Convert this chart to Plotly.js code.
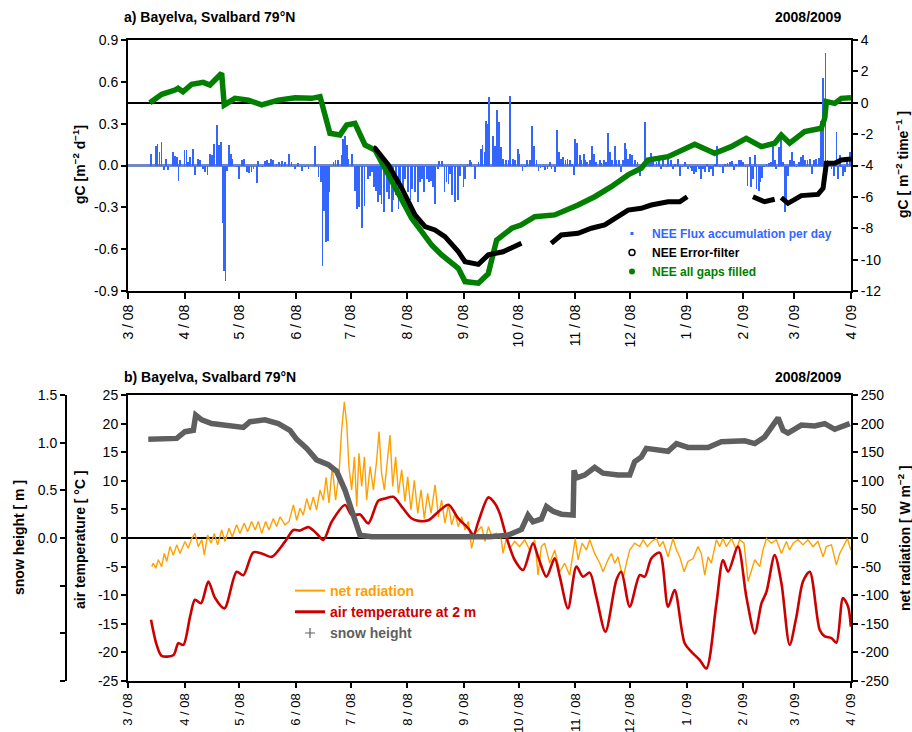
<!DOCTYPE html>
<html>
<head>
<meta charset="utf-8">
<script src="https://cdn.plot.ly/plotly-3.0.1.min.js"></script>
<style>html,body{margin:0;padding:0;background:#fff;}#chart{width:912px;height:732px;}</style>
</head>
<body>
<div id="chart"></div>
<script>
// ---------- axis categories / tick labels ----------
const monthStarts = ['2008-03-01','2008-04-01','2008-05-01','2008-06-01','2008-07-01','2008-08-01','2008-09-01',
  '2008-10-01','2008-11-01','2008-12-01','2009-01-01','2009-02-01','2009-03-01','2009-04-01'];
const monthLabels = ['3 / 08','4 / 08','5 / 08','6 / 08','7 / 08','8 / 08','9 / 08',
  '10 / 08','11 / 08','12 / 08','1 / 09','2 / 09','3 / 09','4 / 09'];

// all "day" values: days since 1 March 2008
// ---------- panel a: NEE flux accumulation per day (gC m-2 d-1) ----------
const neeDay = [
  12.6, 15.2, 16.2, 17.2, 18.4, 19.9, 20.8, 22.1, 24.5, 25.7,
  26.7, 27.6, 28.5, 30.9, 32.1, 33, 34, 35.8, 36.7, 38.2,
  39.4, 40.9, 42.2, 43.6, 44.9, 46.2, 47.3, 48.7, 49.8, 50.8,
  51.7, 52.6, 53.4, 54.4, 55.3, 56.4, 57.3, 59.5, 60.8, 62.3,
  63.5, 65, 66.3, 67.7, 68.8, 70.5, 71.4, 73.2, 75, 76.1,
  77.2, 78.3, 79.6, 81.4, 82.7, 84.2, 86, 88.2, 89.6, 91.5,
  93.3, 95.1, 97, 98.8, 102.4, 104.3, 105.7, 106.6, 107.4, 108.3,
  109.4, 110.3, 112.5, 113.7, 115.2, 117, 117.9, 118.9, 119.8, 120.7,
  122.5, 124.3, 125.6, 126.7, 128.2, 129.5, 131.3, 132.6, 133.8, 134.9,
  135.8, 136.8, 138, 138.9, 140.4, 141.7, 143, 144.4, 145.3, 146.6,
  148.1, 149, 150.8, 151.7, 153.5, 154.8, 155.7, 157.2, 158.7, 159.9,
  160.9, 162.3, 163.6, 164.9, 166, 167.2, 168.2, 169.6, 170.5, 171.8,
  173.3, 174.5, 175.5, 176.4, 177.3, 179.1, 180.9, 181.9, 183.7, 184.6,
  186, 187.3, 188.2, 190.1, 191, 191.9, 193.4, 194.1, 195.2, 195.9,
  197, 197.7, 199.9, 200.9, 202.1, 203.2, 204.1, 205.4, 207.2, 208.5,
  209.4, 210.9, 211.8, 213.6, 214.5, 216, 217.3, 218.7, 220, 221.3,
  222.4, 223.7, 224.9, 226, 227.3, 228.2, 229.7, 231, 231.9, 233.7,
  235, 235.9, 237, 238.3, 239.6, 240.7, 241.9, 243.2, 244.3, 245,
  246.1, 247.4, 248.3, 249.6, 250.5, 251.6, 252.9, 254.2, 255.3, 256.5,
  258.4, 259.3, 260.7, 262, 262.9, 263.8, 265.1, 266.6, 267.5, 268.8,
  269.9, 271.1, 272.1, 273, 273.9, 274.8, 276.1, 277.5, 279, 280.3,
  281.6, 283, 283.9, 285.2, 286.3, 287.6, 289.4, 290.7, 292.1, 293.1,
  294.9, 295.8, 297.3, 298.5, 299.8, 301.3, 302.2, 303.5, 304.9, 306.7,
  308.2, 308.9, 310, 311.3, 312.6, 314, 315, 315.9, 317.2, 318.3,
  319.2, 320.4, 321.4, 322.8, 324.1, 325.9, 326.8, 328.3, 329.6, 330.8,
  331.9, 333.2, 334.5, 335.6, 336.9, 338.2, 339.3, 340.5, 341.4, 342.4,
  343.3, 344.2, 345.5, 346.5, 347.3, 348.4, 349.7, 350.9, 352, 353.3,
  354.2, 355.1, 356.4, 357.5, 358.8, 359.7, 360.6, 361.5, 362.4, 363.7,
  364.8, 366.1, 367.4, 368.5, 369.7, 371, 372.1, 373.4, 374.7, 375.8,
  377, 378.3, 379.4, 380.7, 382, 383.1, 385.3, 386.7, 388, 388.9,
  389.8, 390.7, 391.6, 392.9, 394, 395.3
];
const neeFlux = [
  0.08, 0.14, 0.155, 0.10, 0.17, -0.035, 0.05, -0.03, 0.10, 0.07,
  0.06, -0.11, 0.04, 0.11, 0.11, 0.024, 0.06, 0.115, -0.07, 0.048,
  0.043, -0.024, -0.048, -0.067, 0.084, 0.072, 0.155, 0.29, 0.144, 0.17,
  -0.41, -0.76, -0.83, -0.036, 0.15, 0.084, 0.048, -0.012, -0.10, 0.036,
  0.048, -0.043, -0.053, -0.048, -0.024, -0.127, 0.029, -0.012, 0.029, 0.036,
  0.017, 0.048, 0.036, 0.012, 0.024, 0.029, 0.024, 0.084, 0.024, -0.024,
  0.017, -0.036, -0.012, -0.024, 0.139, -0.084, -0.12, -0.718, -0.323, -0.55,
  -0.538, -0.19, 0.024, 0.036, 0.04, 0.072, 0.19, 0.215, 0.144, 0.048,
  0.084, -0.18, -0.31, -0.3, -0.45, -0.287, -0.096, -0.072, -0.048, -0.155,
  -0.18, -0.263, -0.215, -0.275, -0.335, -0.19, -0.24, -0.335, -0.25, -0.215,
  -0.31, -0.155, -0.19, -0.096, -0.19, -0.25, -0.167, -0.19, -0.263, -0.12,
  -0.096, -0.19, -0.096, -0.12, -0.108, -0.155, -0.275, -0.024, 0.029, 0.029,
  -0.19, -0.12, -0.132, -0.06, -0.215, -0.263, -0.25, -0.072, -0.155, -0.096,
  0.012, 0.036, 0.024, -0.096, 0.0, 0.024, 0.12, 0.144, 0.096, 0.316,
  0.3, 0.49, 0.215, 0.14, 0.4, 0.31, 0.13, 0.05, 0.036, 0.043,
  0.5, 0.048, 0.036, 0.12, 0.084, -0.036, -0.012, 0.043, 0.043, 0.28,
  0.14, 0.036, -0.036, -0.02, -0.012, -0.03, -0.024, 0.024, -0.024, -0.048,
  0.256, 0.096, 0.048, 0.06, 0.036, 0.048, 0.036, 0.012, -0.07, 0.19,
  0.16, 0.072, 0.036, 0.084, 0.04, 0.024, 0.036, 0.14, 0.084, 0.024,
  0.036, 0.017, 0.036, 0.024, 0.23, 0.096, 0.036, 0.14, 0.036, 0.043,
  -0.048, 0.036, 0.16, 0.12, 0.048, 0.084, 0.072, 0.036, 0.024, -0.077,
  -0.012, 0.31, 0.024, 0.036, 0.09, 0.036, 0.024, 0.048, -0.024, 0.06,
  -0.012, 0.072, 0.036, -0.024, 0.012, 0.048, -0.072, -0.012, 0.024, -0.024,
  -0.02, -0.036, -0.06, -0.048, -0.024, -0.096, -0.024, -0.048, 0.012, -0.043,
  -0.024, -0.072, 0.012, 0.14, -0.012, -0.053, 0.012, 0.019, 0.024, 0.029,
  -0.029, 0.012, 0.036, 0.043, 0.024, -0.012, -0.144, 0.06, -0.155, -0.096,
  0.072, -0.167, -0.18, -0.12, -0.091, -0.012, 0.012, 0.017, 0.024, 0.14,
  0.036, -0.024, 0.132, 0.23, 0.024, -0.335, -0.24, -0.072, 0.036, 0.096,
  0.029, -0.012, 0.024, 0.06, 0.072, 0.043, 0.036, 0.048, -0.06, 0.036,
  0.048, 0.053, 0.32, 0.63, 0.81, 0.036, -0.024, -0.072, 0.24, -0.096,
  0.072, -0.012, -0.072, -0.043, 0.036, 0.096
];

// ---------- panel a: cumulative NEE (gC m-2) ----------
const gapsFilledDay = [
  12, 18.5, 25.7, 27.4, 30.1, 34.9, 41.2, 44.9, 51.3, 52.7,
  58.6, 65.9, 73.2, 82.3, 91.5, 100.6, 105.2, 107.5, 110.6, 116.1,
  119.8, 124.3, 129.8, 135.3, 140.8, 148, 155.4, 160.9, 166.3, 171.8,
  180.9, 184.6, 191.9, 197.3, 201.9, 210.2, 215.2, 222.8, 233.7, 246.5,
  255.6, 264.7, 273.9, 281.1, 284.8, 295.8, 303, 310.4, 321.3, 330.4,
  338.6, 346.9, 354.2, 357.8, 362.4, 370.6, 379.7, 381.6, 382.5, 387.1,
  390.7, 396
];
const gapsFilledNEE = [
  0.0, 0.54, 0.81, 0.92, 0.7, 1.18, 1.3, 1.13, 1.88, -0.14,
  0.28, 0.17, -0.14, 0.17, 0.32, 0.28, 0.39, -0.57, -1.95, -2.05,
  -1.42, -1.31, -2.69, -3.01, -4.18, -5.88, -7.37, -8.22, -9.07, -9.7,
  -10.55, -11.4, -11.5, -10.9, -8.75, -8.0, -7.8, -7.26, -7.15, -6.52,
  -5.99, -5.35, -4.6, -4.18, -3.65, -3.44, -3.01, -2.65, -3.22, -2.8,
  -2.27, -2.8, -2.58, -2.06, -2.58, -1.84, -1.63, -0.99, 0.07, -0.04,
  0.28, 0.32
];
const errorFilterDay = [
  134.4, 135.3, 142.6, 149.9, 157.2, 162.7, 168.1, 173.6, 180.9, 184.6,
  191.9, 197.3, 205.4, 209.9, 215.5, 223,
  231.8, 237.3, 246.5, 253.8, 261.1, 266.6, 273.9, 281.1, 286.6, 295.8, 302.2, 306.3, 320,
  342.3, 348.7, 354.2, 356,
  357.8, 361.5, 368.8, 377.9, 380.7, 382.5, 387.1, 390.7, 396
];
const errorFilterNEE = [
  -2.85, -2.9, -3.97, -5.45, -7.15, -7.9, -8.11, -8.53, -9.49, -10.13,
  -10.3, -9.7, -9.5, -9.28, -8.96, null,
  -8.96, -8.43, -8.32, -8.0, -7.79, -7.37, -6.84, -6.73, -6.52, -6.31, -6.31, -5.99, null,
  -5.99, -6.31, -6.15, null,
  -6.05, -6.41, -5.92, -5.84, -5.45, -3.86, -3.86, -3.65, -3.59
];

// ---------- panel b: air temperature at 2 m (°C) ----------
const airTempDay = [
  12.6, 15.7, 18.4, 24.8, 27.6, 30.3, 34, 36.7, 40, 44,
  47.7, 52.8, 59.5, 63.2, 68.6, 73.2, 78.7, 86, 90.6, 94.2,
  98.8, 103.3, 107, 111.6, 118.9, 122.5, 127.1, 131.6, 137.1, 140.8,
  145.3, 149.9, 155.4, 159, 164.5, 170, 175.5, 181, 186.4, 189.2,
  191.9, 197.4, 200.9, 203.6, 207.2, 211.8, 216.4, 221.8, 224.6, 229.2,
  233.7, 236.5, 241, 245.6, 249.2, 252.9, 256.5, 261.5, 267.5, 270.2,
  274.8, 280.3, 283, 286.7, 291.2, 295.8, 299.4, 304.9, 308.6, 313.1,
  316.8, 322.3, 325.9, 328.7, 334.1, 338.7, 343.3, 347, 349.7, 354.2,
  357.9, 362.4, 366.1, 369.7, 373.4, 378.9, 381.6, 385.3, 388, 391.6,
  394.4, 395.9
];
const airTemp = [
  -14.3, -18.7, -20.6, -20.5, -18.4, -18.7, -13.75, -10.8, -11.4, -7.6,
  -10.5, -12.3, -5.9, -6.5, -2.5, -2.7, -3.3, -0.64, 1.4, 1.3,
  1.9, 0.8, -0.35, 2.86, 5.77, 4.0, 4.1, 2.56, 6.5, 6.9,
  7.2, 5.5, 3.4, 3.0, 3.1, 4.6, 5.8, 3.4, 1.7, 0.5,
  2.86, 7.1, 6.06, 4.3, 0.23, -3.85, -5.6, -0.93, -3.26, -6.76,
  -3.55, -6.76, -12.3, -5.0, -6.76, -6.06, -10.3, -16.4, -7.34, -5.9,
  -12.0, -6.5, -6.76, -3.55, -2.56, -12.0, -9.1, -18.4, -19.9, -21.3,
  -22.8, -11.4, -3.85, -5.9, -1.5, -10.3, -16.7, -11.4, -9.4, -3.0,
  -7.9, -18.7, -13.75, -7.6, -5.9, -16.1, -17.2, -17.5, -18.3, -10.5,
  -12.0, -15.5
];

// ---------- panel b: net radiation (W m-2) ----------
const netRadDay = [
  13, 13.9, 15.2, 16.6, 18.4, 19.9, 21.2, 23, 24.8, 26.7,
  28.5, 31.2, 33, 34.9, 36.7, 38.5, 40.4, 41.8, 43.6, 45.5,
  47.3, 49.1, 51.3, 53.1, 55.3, 57.1, 59.5, 61.3, 63.7, 65.5,
  67.7, 69.6, 71.4, 73.2, 75.4, 77.2, 79.6, 81.4, 83.3, 86,
  88.2, 90.6, 92.4, 94.2, 96, 97.9, 99.7, 101.5, 103.3, 105.2,
  107, 108.5, 110.1, 111.9, 113.7, 115.6, 117, 118.5, 119.8, 121,
  122.5, 124, 125.3, 126.5, 128, 129.5, 130.7, 132.6, 134.4, 136.2,
  137.5, 138.9, 140.4, 141.7, 143.5, 145, 146.6, 148.1, 149.9, 151.7,
  153.2, 155, 156.8, 158.7, 160.5, 162.3, 164.1, 166, 168.2, 170,
  171.8, 173.6, 175.5, 177.3, 179.1, 180.9, 182.8, 184.6, 186.4, 188.2,
  190.1, 191.9, 193.7, 195.5, 197.4, 199, 201.8, 204.5, 205.4, 207.2,
  209.1, 211.8, 214.5, 217.3, 220, 222.8, 224.6, 226.4, 228.2, 231,
  233.7, 236.5, 239.2, 241.9, 245, 246.5, 248.7, 251.1, 252.9, 255.6,
  258.4, 260.2, 262.9, 264.8, 266.6, 268.4, 271.1, 273, 274.8, 277.5,
  280.3, 282.1, 284.5, 286.7, 289.4, 291.2, 293.1, 295.8, 298.5, 300.4,
  302.2, 304.6, 306.7, 309.5, 312.2, 314, 315.9, 317.7, 319.5, 322.3,
  324.1, 325.9, 327.7, 330.5, 333.2, 335, 337.4, 339.6, 341.4, 343.3,
  346, 347.8, 349.7, 352.4, 355.1, 357.9, 360.6, 362.4, 364.3, 367,
  369.7, 372.4, 375.2, 377.9, 380.7, 382.5, 385.3, 388, 389.8, 391.6,
  394, 395.9
];
const netRad = [
  -50, -44, -53, -38, -50, -27, -41, -15, -30, -12,
  -27, -6, -18, -1, 8, -15, -3, -30, 5, -9,
  8, -12, 14, -6, 17, 2, 23, 8, 26, 11,
  29, 14, 29, 8, 29, 14, 34, 20, 37, 23,
  29, 58, 31, 52, 40, 69, 49, 72, 49, 84,
  66, 106, 61, 125, 66, 113, 189, 238, 200, 125,
  84, 142, 55, 148, 90, 142, 66, 125, 84, 136,
  186, 113, 84, 130, 180, 90, 142, 78, 119, 64,
  107, 49, 101, 43, 84, 34, 78, 43, 93, 37,
  66, 26, 58, 23, 43, 20, 37, 14, 29, -18,
  8, 14, 20, -6, 20, 5, 8, -3, -27, -1,
  -18, -6, -15, -3, -21, -3, -65, -15, -9, -44,
  -21, -59, -44, -65, -1, -38, -9, -21, -3, -27,
  -44, -59, -38, -27, -44, -33, -71, -44, -21, -9,
  -15, -3, -15, -6, -1, -15, -6, -33, -1, -21,
  -33, -59, -41, -36, -15, -27, -65, -33, -44, -3,
  -15, -1, -15, -1, -21, -3, -9, -76, -56, -38,
  -50, -21, -1, -9, -3, -27, -6, -21, -9, -3,
  -12, -3, -15, -6, -33, -15, -12, -47, -27, -15,
  -1, -21
];

// ---------- panel b: snow height (m) ----------
const snowDay = [
  11.1, 26.7, 31.2, 35.8, 37.1, 40.4, 45.8, 53.1, 63.2, 66.8,
  75, 82.3, 88.7, 92.4, 97.9, 103.3, 109.7, 114.3, 118.9, 123.4,
  127.1, 133.5, 150, 170, 198.3, 208.2, 215.5, 219.1, 221.8, 226.4,
  229.2, 232.8, 237.4, 243.8, 244.3, 245.6, 250.1, 255.6, 260.2, 268.4,
  274.8, 277.5, 281.2, 283.9, 290.3, 295.8, 300.4, 306.7, 317.7, 325,
  337.8, 343.3, 348.7, 352.4, 356.1, 358.8, 361.5, 368.8, 376.1, 381.6,
  387.1, 395.3
];
const snowHeight = [
  1.035, 1.045, 1.115, 1.13, 1.29, 1.24, 1.2, 1.185, 1.16, 1.22,
  1.24, 1.2, 1.13, 1.035, 0.94, 0.82, 0.77, 0.70, 0.50, 0.24,
  0.03, 0.014, 0.014, 0.014, 0.014, 0.03, 0.09, 0.24, 0.17, 0.2,
  0.33, 0.28, 0.25, 0.24, 0.71, 0.63, 0.66, 0.74, 0.68, 0.66,
  0.66, 0.80, 0.85, 0.94, 0.92, 0.91, 0.99, 0.95, 0.95, 1.01,
  1.02, 0.99, 1.06, 1.15, 1.26, 1.13, 1.10, 1.185, 1.175, 1.20,
  1.14, 1.20
];

// tick label texts
const fluxTicks = ['-0.9','-0.6','-0.3','0.0','0.3','0.6','0.9'];
const cumTicks = ['-12','-10','-8','-6','-4','-2','0','2','4'];
const tempTicks = ['-25','-20','-15','-10','-5','0','5','10','15','20','25'];
const radTicks = ['-250','-200','-150','-100','-50','0','50','100','150','200','250'];
const snowTicks = ['0.0','0.5','1.0','1.5'];

// ---------- helpers ----------
const T0 = Date.UTC(2008, 2, 1);
const toDate = d => new Date(T0 + d * 86400000).toISOString().replace('T', ' ').slice(0, 19);
const W = 912, H = 732;
const px = x => x / W, py = y => 1 - y / H;
const FONT = 'Liberation Sans, Arial, Helvetica, sans-serif';
const num = a => a.map(Number);

const cBlue = '#3366ff', cGreen = '#007f00', cBlack = '#000000';
const cOrange = '#ffa000', cRed = '#cc0000', cGray = '#5f5f5f';

const traces = [
  { type: 'bar', x: neeDay.map(toDate), y: neeFlux, xaxis: 'x', yaxis: 'y',
    width: 86400000 * 0.95, marker: { color: cBlue, line: { width: 0 } }, showlegend: false },
  { type: 'scatter', mode: 'lines', x: gapsFilledDay.map(toDate), y: gapsFilledNEE, xaxis: 'x', yaxis: 'y2',
    line: { color: cGreen, width: 5.5 }, showlegend: false },
  { type: 'scatter', mode: 'lines', x: errorFilterDay.map(toDate), y: errorFilterNEE, xaxis: 'x', yaxis: 'y2',
    connectgaps: false, line: { color: cBlack, width: 5 }, showlegend: false },
  // legend entries panel a
  { type: 'scatter', mode: 'markers', x: [null], y: [null], xaxis: 'x', yaxis: 'y', legend: 'legend',
    name: '<span style="color:' + cBlue + '"><b>NEE Flux accumulation per day</b></span>',
    marker: { color: cBlue, size: 3, symbol: 'square' } },
  { type: 'scatter', mode: 'markers', x: [null], y: [null], xaxis: 'x', yaxis: 'y', legend: 'legend',
    name: '<b>NEE Error-filter</b>',
    marker: { color: 'white', size: 6, symbol: 'circle', line: { color: cBlack, width: 1.5 } } },
  { type: 'scatter', mode: 'markers', x: [null], y: [null], xaxis: 'x', yaxis: 'y', legend: 'legend',
    name: '<span style="color:' + cGreen + '"><b>NEE all gaps filled</b></span>',
    marker: { color: cGreen, size: 6, symbol: 'circle' } },

  // panel b
  { type: 'scatter', mode: 'lines', x: netRadDay.map(toDate), y: netRad, xaxis: 'x2', yaxis: 'y3',
    line: { color: cOrange, width: 1.4 }, showlegend: false },
  { type: 'scatter', mode: 'lines', x: airTempDay.map(toDate), y: airTemp, xaxis: 'x2', yaxis: 'y4',
    line: { color: cRed, width: 2.6, shape: 'spline', smoothing: 0.8 }, showlegend: false },
  { type: 'scatter', mode: 'lines', x: snowDay.map(toDate), y: snowHeight, xaxis: 'x2', yaxis: 'y5',
    line: { color: cGray, width: 5.5 }, showlegend: false },
  // legend entries panel b
  { type: 'scatter', mode: 'lines', x: [null], y: [null], xaxis: 'x2', yaxis: 'y3', legend: 'legend2',
    name: '<span style="color:' + cOrange + '"><b>net radiation</b></span>',
    line: { color: cOrange, width: 2 } },
  { type: 'scatter', mode: 'lines', x: [null], y: [null], xaxis: 'x2', yaxis: 'y3', legend: 'legend2',
    name: '<span style="color:' + cRed + '"><b>air temperature at 2 m</b></span>',
    line: { color: cRed, width: 3 } },
  { type: 'scatter', mode: 'markers', x: [null], y: [null], xaxis: 'x2', yaxis: 'y3', legend: 'legend2',
    name: '<span style="color:' + cGray + '"><b>snow height</b></span>',
    marker: { color: cGray, size: 7, symbol: 'cross-thin', line: { color: cGray, width: 1.2 } } }
];

const xDom = [px(128), px(851)];
const topDom = [py(291), py(40)];
const botDom = [py(681), py(395)];

const baseX = {
  type: 'date', range: ['2008-03-01', '2009-04-01'], domain: xDom,
  tickvals: monthStarts, ticktext: monthLabels, tickangle: -90,
  ticks: 'outside', ticklen: 6, tickwidth: 2, tickcolor: '#000',
  showline: true, linewidth: 2, linecolor: '#000', mirror: true,
  showgrid: false, zeroline: false, tickfont: { size: 14, family: FONT, color: '#000' },
  automargin: false, fixedrange: true
};
const baseY = {
  ticks: 'outside', ticklen: 5, tickwidth: 2, tickcolor: '#000',
  showline: true, linewidth: 2, linecolor: '#000', showgrid: false,
  tickfont: { size: 14, family: FONT, color: '#000' }, automargin: false, fixedrange: true
};

const layout = {
  width: W, height: H,
  margin: { l: 0, r: 0, t: 0, b: 0 },
  paper_bgcolor: '#fff', plot_bgcolor: '#fff',
  font: { family: FONT, size: 14, color: '#000' },
  showlegend: true, hovermode: false, bargap: 0,
  xaxis: Object.assign({}, baseX, { anchor: 'y' }),
  yaxis: Object.assign({}, baseY, {
    domain: topDom, anchor: 'x', range: [-0.9, 0.9],
    tickvals: num(fluxTicks), ticktext: fluxTicks,
    zeroline: true, zerolinecolor: '#7088c4', zerolinewidth: 2.5
  }),
  yaxis2: Object.assign({}, baseY, {
    overlaying: 'y', side: 'right', anchor: 'x', range: [-12, 4],
    tickvals: num(cumTicks), ticktext: cumTicks,
    zeroline: true, zerolinecolor: '#000', zerolinewidth: 1.5
  }),
  xaxis2: Object.assign({}, baseX, {
    anchor: 'y3', ticklen: 5, tickfont: { size: 13, family: FONT, color: '#000' }
  }),
  yaxis3: Object.assign({}, baseY, {
    domain: botDom, anchor: 'x2', side: 'right', range: [-250, 250],
    tickvals: num(radTicks), ticktext: radTicks,
    zeroline: true, zerolinecolor: '#000', zerolinewidth: 1.5
  }),
  yaxis4: Object.assign({}, baseY, {
    overlaying: 'y3', side: 'left', anchor: 'x2', range: [-25, 25],
    tickvals: num(tempTicks), ticktext: tempTicks, zeroline: false
  }),
  yaxis5: Object.assign({}, baseY, {
    overlaying: 'y3', side: 'left', anchor: 'free', position: px(66), range: [-1.5, 1.5],
    tickvals: num(snowTicks), ticktext: snowTicks, zeroline: false,
    minor: { dtick: 0.5, tick0: 0, ticks: 'outside', ticklen: 5, tickwidth: 2, tickcolor: '#000', showgrid: false }
  }),
  legend: {
    x: px(612), y: py(219), xanchor: 'left', yanchor: 'top',
    bgcolor: 'rgba(0,0,0,0)', borderwidth: 0, tracegroupgap: 0,
    font: { size: 12, family: FONT, color: '#000' }, itemwidth: 30
  },
  legend2: {
    x: px(290), y: py(575), xanchor: 'left', yanchor: 'top',
    bgcolor: 'rgba(0,0,0,0)', borderwidth: 0, tracegroupgap: 0,
    font: { size: 14, family: FONT, color: '#000' }, itemwidth: 30
  },
  annotations: [
    { text: '<b>a) Bayelva, Svalbard 79°N</b>', x: px(122), y: py(17), xanchor: 'left', yanchor: 'middle' },
    { text: '<b>2008/2009</b>', x: px(843), y: py(17), xanchor: 'right', yanchor: 'middle' },
    { text: '<b>b) Bayelva, Svalbard 79°N</b>', x: px(122), y: py(377), xanchor: 'left', yanchor: 'middle' },
    { text: '<b>2008/2009</b>', x: px(843), y: py(377), xanchor: 'right', yanchor: 'middle' },
    { text: '<b>gC [m<sup>−2</sup> d<sup>−1</sup>]</b>', x: px(79), y: py(165), textangle: -90, xanchor: 'center', yanchor: 'middle' },
    { text: '<b>gC [ m<sup>−2</sup> time<sup>−1</sup> ]</b>', x: px(902), y: py(165), textangle: -90, xanchor: 'center', yanchor: 'middle' },
    { text: '<b>snow height [ m ]</b>', x: px(19), y: py(538), textangle: -90, xanchor: 'center', yanchor: 'middle' },
    { text: '<b>air temperature [ °C ]</b>', x: px(80), y: py(540), textangle: -90, xanchor: 'center', yanchor: 'middle' },
    { text: '<b>net radiation [ W m<sup>−2</sup> ]</b>', x: px(904), y: py(538), textangle: -90, xanchor: 'center', yanchor: 'middle' }
  ].map(a => Object.assign({ xref: 'paper', yref: 'paper', showarrow: false, font: { size: 14, family: FONT, color: '#000' } }, a))
};

Plotly.newPlot('chart', traces, layout, { staticPlot: true, displayModeBar: false });
</script>
</body>
</html>
